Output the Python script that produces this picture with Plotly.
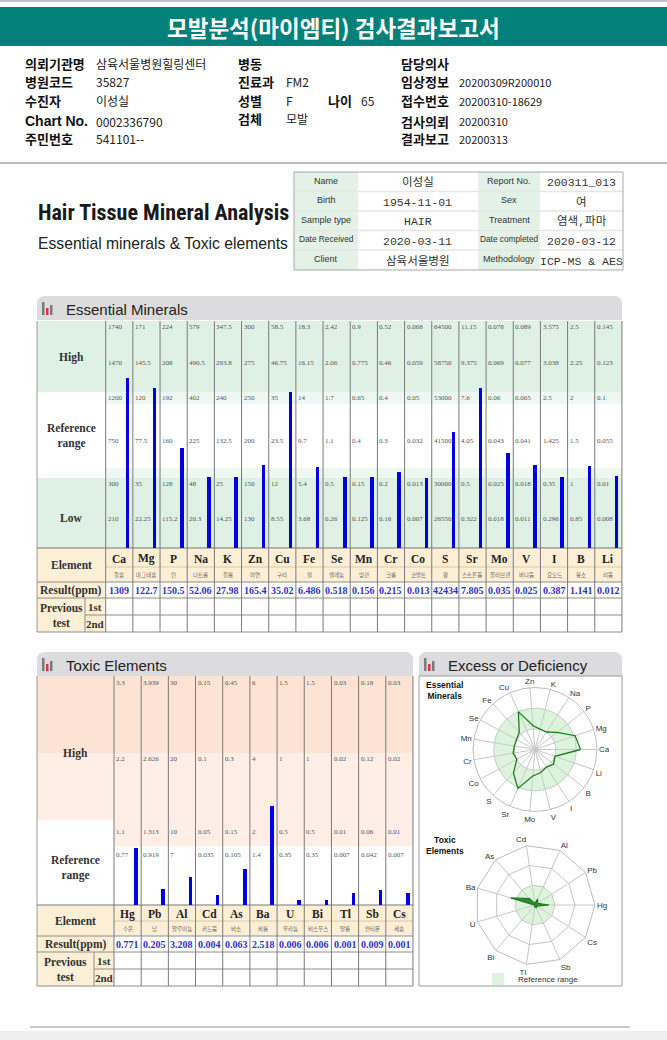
import numpy as np
import plotly.graph_objects as go

# ---------------- data ----------------
ess_elements = ["Ca", "Mg", "P", "Na", "K", "Zn", "Cu", "Fe", "Se", "Mn", "Cr", "Co", "S", "Sr", "Mo", "V", "I", "B", "Li"]
ess_korean = ["칼슘", "마그네슘", "인", "나트륨", "칼륨", "아연", "구리", "철", "셀레늄", "망간", "크롬", "코발트", "황",
              "스트론튬", "몰리브덴", "바나듐", "요오드", "붕소", "리튬"]
ess_result = [1309, 122.7, 150.5, 52.06, 27.98, 165.4, 35.02, 6.486, 0.518, 0.156, 0.215, 0.013, 42434, 7.805,
              0.035, 0.025, 0.387, 1.141, 0.012]
ess_top = ["1740", "171", "224", "579", "347.5", "300", "58.5", "18.3", "2.42", "0.9", "0.52", "0.068", "64500",
           "11.15", "0.078", "0.089", "3.575", "2.5", "0.145"]
ess_high_mid = ["1470", "145.5", "208", "490.5", "293.8", "275", "46.75", "16.15", "2.06", "0.775", "0.46", "0.059",
                "58750", "9.375", "0.069", "0.077", "3.038", "2.25", "0.123"]
ess_high = ["1200", "120", "192", "402", "240", "250", "35", "14", "1.7", "0.65", "0.4", "0.05", "53000", "7.6",
            "0.06", "0.065", "2.5", "2", "0.1"]
ess_ref_mid = ["750", "77.5", "160", "225", "132.5", "200", "23.5", "9.7", "1.1", "0.4", "0.3", "0.032", "41500",
               "4.05", "0.043", "0.041", "1.425", "1.5", "0.055"]
ess_low = ["300", "35", "128", "48", "25", "150", "12", "5.4", "0.5", "0.15", "0.2", "0.013", "30000", "0.5",
           "0.025", "0.018", "0.35", "1", "0.01"]
ess_low_mid = ["210", "22.25", "115.2", "20.3", "14.25", "130", "8.55", "3.68", "0.26", "0.125", "0.16", "0.007",
               "26550", "0.322", "0.018", "0.011", "0.296", "0.85", "0.008"]

tox_elements = ["Hg", "Pb", "Al", "Cd", "As", "Ba", "U", "Bi", "Tl", "Sb", "Cs"]
tox_korean = ["수은", "납", "알루미늄", "카드뮴", "비소", "바륨", "우라늄", "비스무스", "탈륨", "안티몬", "세슘"]
tox_result = [0.771, 0.205, 3.208, 0.004, 0.063, 2.518, 0.006, 0.006, 0.001, 0.009, 0.001]
tox_top = ["3.3", "3.939", "30", "0.15", "0.45", "6", "1.5", "1.5", "0.03", "0.18", "0.03"]
tox_high_mid = ["2.2", "2.626", "20", "0.1", "0.3", "4", "1", "1", "0.02", "0.12", "0.02"]
tox_limit = ["1.1", "1.313", "10", "0.05", "0.15", "2", "0.5", "0.5", "0.01", "0.06", "0.01"]
tox_low_mark = ["0.77", "0.919", "7", "0.035", "0.105", "1.4", "0.35", "0.35", "0.007", "0.042", "0.007"]

info_left_labels = ["의뢰기관명", "병원코드", "수진자", "Chart No.", "주민번호"]
info_left_values = ["삼육서울병원힐링센터", "35827", "이성실", "0002336790", "541101--"]
info_mid_labels = ["병동", "진료과", "성별", "검체"]
info_mid_values = ["", "FM2", "F", "모발"]
info_right_labels = ["담당의사", "임상정보", "접수번호", "검사의뢰", "결과보고"]
info_right_values = ["", "20200309R200010", "20200310-18629", "20200310", "20200313"]

card_labels_l = ["Name", "Birth", "Sample type", "Date Received", "Client"]
card_values_l = ["이성실", "1954-11-01", "HAIR", "2020-03-11", "삼육서울병원"]
card_labels_r = ["Report No.", "Sex", "Treatment", "Date completed", "Methodology"]
card_values_r = ["200311_013", "여", "염색,파마", "2020-03-12", "ICP-MS & AES"]

# ---------------- helpers ----------------
W, H = 667, 1040
KR = "Noto Sans CJK KR"
SANS = "Liberation Sans, Arial, sans-serif"
SERIF = "Liberation Serif, Noto Sans CJK KR, serif"
MONO = "Liberation Mono, Noto Sans CJK KR, monospace"


def px(x):
    return x / W


def py(y):
    return 1 - y / H


shapes, annotations = [], []


def rect(x0, y0, x1, y1, fill=None, line=None, lw=1):
    shapes.append(dict(type="rect", xref="paper", yref="paper", x0=px(x0), x1=px(x1), y0=py(y1), y1=py(y0),
                       fillcolor=fill or "rgba(0,0,0,0)",
                       line=dict(color=line or "rgba(0,0,0,0)", width=lw if line else 0), layer="below"))


def hline(x0, x1, y, color="#8c8c8c", lw=1):
    shapes.append(dict(type="line", xref="paper", yref="paper", x0=px(x0), x1=px(x1), y0=py(y), y1=py(y),
                       line=dict(color=color, width=lw), layer="below"))


def vline(x, y0, y1, color="#8c8c8c", lw=1):
    shapes.append(dict(type="line", xref="paper", yref="paper", x0=px(x), x1=px(x), y0=py(y0), y1=py(y1),
                       line=dict(color=color, width=lw), layer="below"))


def text(x, y, s, size=11, color="#222", family=SANS, xa="left", ya="middle"):
    annotations.append(dict(xref="paper", yref="paper", x=px(x), y=py(y), text=s, showarrow=False,
                            xanchor=xa, yanchor=ya, borderpad=0,
                            font=dict(size=size, color=color, family=family)))


def section_header(x0, x1, y0, y1, title):
    r = 8
    path = (f"M {px(x0)},{py(y1)} L {px(x0)},{py(y0 + r)} Q {px(x0)},{py(y0)} {px(x0 + r)},{py(y0)} "
            f"L {px(x1 - r)},{py(y0)} Q {px(x1)},{py(y0)} {px(x1)},{py(y0 + r)} L {px(x1)},{py(y1)} Z")
    shapes.append(dict(type="path", xref="paper", yref="paper", path=path, fillcolor="#dcdcdf",
                       line=dict(width=0), layer="below"))
    rect(x0 + 5, y0 + 6, x0 + 7.5, y1 - 5, fill="#7a7a7a")
    rect(x0 + 9, y0 + 12, x0 + 11.5, y1 - 5, fill="#e03232")
    rect(x0 + 13, y0 + 9, x0 + 15.5, y1 - 5, fill="#7a7a7a")
    text(x0 + 28, (y0 + y1) / 2 + 1, title, size=15, color="#222")


def fmt(v):
    return str(v)


# ---------------- scores ----------------
def ess_score(v, lo, lo_mid, hi, top):
    bottom = 2 * lo_mid - lo
    if v <= lo:
        return max(0.0, (v - bottom) / (lo - bottom))
    if v <= hi:
        return 1 + (v - lo) / (hi - lo)
    return min(3.0, 2 + (v - hi) / (top - hi))


ess_s = [ess_score(v, float(a), float(b), float(c), float(d))
         for v, a, b, c, d in zip(ess_result, ess_low, ess_low_mid, ess_high, ess_top)]
tox_s = [min(3.0, v / float(L)) if v <= float(L) else min(3.0, 1 + (v - float(L)) / float(L))
         for v, L in zip(tox_result, tox_limit)]

ESS_KNOTS = [0, 70, 156, 227]     # axis units of essential bar panel per score 0..3
TOX_KNOTS = [4, 80, 153, 229]     # axis units of toxic bar panel per score 0..3
ess_h = np.interp(ess_s, [0, 1, 2, 3], ESS_KNOTS)
tox_h = np.interp(tox_s, [0, 1, 2, 3], TOX_KNOTS)

# ---------------- page header ----------------
hline(0, W, 1, "#c4c4c4", 2)
rect(0, 7, W, 46, fill="#04807a")
text(333, 27, "<b>모발분석(마이엠티) 검사결과보고서</b>", size=22.5, color="white", family=KR, xa="center")
hline(0, W, 163, "#bdbdbd", 2)

rows_y = [63, 82, 101, 121, 139]
for i, (lab, val) in enumerate(zip(info_left_labels, info_left_values)):
    fam = SANS if lab.startswith("Chart") else KR
    text(24, rows_y[i], f"<b>{lab}</b>", size=14 if fam == SANS else 13, color="#111", family=fam)
    text(95, rows_y[i], val, size=12, color="#222", family=KR)
mid_y = [63, 82, 101, 118]
for i, (lab, val) in enumerate(zip(info_mid_labels, info_mid_values)):
    text(237, mid_y[i], f"<b>{lab}</b>", size=13, color="#111", family=KR)
    if val:
        text(285, mid_y[i], val, size=12, color="#222", family=KR)
text(327, 101, "<b>나이</b>", size=13, color="#111", family=KR)
text(360, 101, "65", size=12, color="#222", family=KR)
for i, (lab, val) in enumerate(zip(info_right_labels, info_right_values)):
    text(400, rows_y[i], f"<b>{lab}</b>", size=13, color="#111", family=KR)
    if val:
        text(458, rows_y[i], val, size=11, color="#222", family=KR)

# ---------------- title block ----------------
text(37, 213, "<b>Hair Tissue Mineral Analysis</b>", size=22, color="#1a1a1a",
     family="Liberation Sans Narrow, Roboto Condensed, Liberation Sans")
text(37, 243, "Essential minerals &amp; Toxic elements", size=15.7, color="#222", family=SANS)

card_x = [294, 358, 478, 540, 623]
card_y = [172, 191.5, 211, 230.5, 250, 270]
CARD_G = "#e3f1e7"
rect(card_x[0], card_y[0], card_x[1], card_y[-1], fill=CARD_G)
rect(card_x[2], card_y[0], card_x[3], card_y[-1], fill=CARD_G)
for yy in card_y[1:-1]:
    hline(card_x[0], card_x[-1], yy, "#e6e6e6", 1.5)
rect(card_x[0], card_y[0], card_x[-1], card_y[-1], line="#a8a8a8", lw=1)
for i in range(5):
    cy = (card_y[i] + card_y[i + 1]) / 2
    lsz = 9 if len(card_labels_l[i]) < 12 else 8.3
    rsz = 9 if len(card_labels_r[i]) < 12 else 8.3
    text((card_x[0] + card_x[1]) / 2, cy - 1, card_labels_l[i], size=lsz, color="#333", xa="center")
    text((card_x[1] + card_x[2]) / 2, cy + 1, card_values_l[i], size=11.5, color="#333", family=MONO, xa="center")
    text((card_x[2] + card_x[3]) / 2, cy - 1, card_labels_r[i], size=rsz, color="#333", xa="center")
    text((card_x[3] + card_x[4]) / 2, cy + 1, card_values_r[i], size=11.5, color="#333", family=MONO, xa="center")

# ---------------- Essential minerals panel ----------------
GREEN = "#dff0e5"
PALE = "#eef7f1"
BEIGE = "#fdefd6"
section_header(37, 622, 296, 320, "Essential Minerals")
E_L, E_X0, E_W = 37, 105.7, 27.17
E_R = E_X0 + 19 * E_W
E_T, E_B = 321, 548
rect(E_L, E_T, E_R, 392, fill=GREEN)
rect(E_X0, 392, E_R, 404, fill=PALE)
rect(E_X0, 468, E_R, 478, fill=PALE)
rect(E_L, 478, E_R, E_B, fill=GREEN)
text(71, 357, "<b>High</b>", size=11.5, color="#333", family=SERIF, xa="center")
text(71, 436, "<b>Reference<br>range</b>", size=11.5, color="#333", family=SERIF, xa="center")
text(71, 518, "<b>Low</b>", size=11.5, color="#333", family=SERIF, xa="center")


def element_table(xl, x0, w, n, sub_x, ys, elems, kors, results):
    top, sym_b, kor_b, res_b, first_b, bot = ys
    xr = x0 + n * w
    rect(xl, top, x0, res_b, fill=BEIGE)
    rect(xl, res_b, x0, bot, fill=BEIGE)
    rect(x0, top, xr, kor_b, fill=BEIGE)
    rect(x0, kor_b, xr, bot, fill="white")
    hline(xl, xr, top, "#777")
    hline(x0, xr, sym_b, "#d8c9a8")
    hline(xl, xr, kor_b, "#8c8c8c")
    hline(xl, xr, res_b, "#8c8c8c")
    hline(sub_x, xr, first_b, "#8c8c8c")
    hline(xl, xr, bot, "#8c8c8c")
    vline(sub_x, res_b, bot)
    text((xl + x0) / 2, (top + kor_b) / 2, "<b>Element</b>", size=11.5, color="#333", family=SERIF, xa="center")
    text((xl + x0) / 2, (kor_b + res_b) / 2, "<b>Result(ppm)</b>", size=11.5, color="#333", family=SERIF,
         xa="center")
    text((xl + sub_x) / 2, (res_b + bot) / 2, "<b>Previous<br>test</b>", size=11.5, color="#333", family=SERIF,
         xa="center")
    text((sub_x + x0) / 2, (res_b + first_b) / 2, "<b>1st</b>", size=11, color="#333", family=SERIF, xa="center")
    text((sub_x + x0) / 2, (first_b + bot) / 2, "<b>2nd</b>", size=11, color="#333", family=SERIF, xa="center")
    for i in range(n):
        cx = x0 + (i + 0.5) * w
        text(cx, (top + sym_b) / 2 + 1, f"<b>{elems[i]}</b>", size=11.5, color="#222", family=SERIF, xa="center")
        text(cx, (sym_b + kor_b) / 2, kors[i], size=5.5, color="#666", family=KR, xa="center")
        text(cx, (kor_b + res_b) / 2, f"<b>{fmt(results[i])}</b>", size=10, color="#2f2fcf", family=SERIF,
             xa="center")


element_table(E_L, E_X0, E_W, 19, 85, [548, 567, 582, 598, 615, 632], ess_elements, ess_korean, ess_result)
for i in range(20):
    vline(E_X0 + i * E_W, E_T, 632, "#7a7a7a")
vline(E_L, E_T, 632, "#9a9a9a")

# ---------------- Toxic panel ----------------
PEACH = "#fde3d4"
PEACH2 = "#feeee5"
section_header(37, 413, 652, 676, "Toxic Elements")
T_L, T_X0, T_W = 37, 114, 27.18
T_R = T_X0 + 11 * T_W
T_T, T_B = 676, 905
rect(T_L, T_T, T_R, 753, fill=PEACH)
rect(T_L, 753, T_X0, 820, fill=PEACH2)
rect(T_X0, 753, T_R, 846, fill=PEACH2)
text(75, 753, "<b>High</b>", size=11.5, color="#333", family=SERIF, xa="center")
text(75, 868, "<b>Reference<br>range</b>", size=11.5, color="#333", family=SERIF, xa="center")
element_table(T_L, T_X0, T_W, 11, 94, [905, 921, 936, 952, 969, 986], tox_elements, tox_korean, tox_result)
for i in range(12):
    vline(T_X0 + i * T_W, T_T, 986, "#7a7a7a")
vline(T_L, T_T, 986, "#9a9a9a")

# ---------------- Excess / deficiency panel ----------------
section_header(419, 622, 652, 676, "Excess or Deficiency")
rect(419, 676, 622, 986, line="#9a9a9a", lw=1)
text(425, 690, "<b>Essential<br>Minerals</b>", size=8.5, color="#111", family=SANS, ya="middle")
text(425, 845, "<b>Toxic<br>Elements</b>", size=8.5, color="#111", family=SANS, ya="middle")

# bottom of page
hline(30, 630, 1027, "#c8c8c8", 2)
rect(0, 1031, W, H, fill="#efefef")

# ---------------- traces ----------------
fig = go.Figure()
fig.add_trace(go.Bar(x=[i + 0.79 for i in range(19)], y=ess_h, width=0.13, xaxis="x", yaxis="y",
                     marker=dict(color="#0000e0", line=dict(width=0)), showlegend=False, hoverinfo="skip"))
fig.add_trace(go.Bar(x=[i + 0.81 for i in range(11)], y=tox_h, width=0.13, xaxis="x2", yaxis="y2",
                     marker=dict(color="#0000e0", line=dict(width=0)), showlegend=False, hoverinfo="skip"))

# tick-value labels inside the bar panels
ess_levels = list(zip([ESS_KNOTS[3], (ESS_KNOTS[2] + ESS_KNOTS[3]) / 2, ESS_KNOTS[2],
                       (ESS_KNOTS[1] + ESS_KNOTS[2]) / 2, ESS_KNOTS[1], ESS_KNOTS[1] / 2],
                      [ess_top, ess_high_mid, ess_high, ess_ref_mid, ess_low, ess_low_mid]))
for yv, labels in ess_levels:
    for i, lab in enumerate(labels):
        annotations.append(dict(xref="x", yref="y", x=i + 0.04, y=yv, text=lab, showarrow=False,
                                xanchor="left", yanchor="top", yshift=-1, borderpad=0,
                                font=dict(size=7, color="#555", family=SERIF)))
tox_levels = list(zip([TOX_KNOTS[3], TOX_KNOTS[2], TOX_KNOTS[1], float(np.interp(0.7, [0, 1], TOX_KNOTS[:2]))],
                      [tox_top, tox_high_mid, tox_limit, tox_low_mark]))
for yv, labels in tox_levels:
    for i, lab in enumerate(labels):
        annotations.append(dict(xref="x2", yref="y2", x=i + 0.04, y=yv, text=lab, showarrow=False,
                                xanchor="left", yanchor="top", yshift=-2, borderpad=0,
                                font=dict(size=7, color="#555", family=SERIF)))

# radar charts
fig.add_trace(go.Barpolar(r=[1] * 19, base=[1] * 19, theta=ess_elements, subplot="polar",
                          marker=dict(color="rgba(180,228,180,0.45)", line=dict(width=0)),
                          showlegend=False, hoverinfo="skip"))
fig.add_trace(go.Scatterpolar(r=ess_s + [ess_s[0]], theta=ess_elements + [ess_elements[0]], subplot="polar",
                              mode="lines", line=dict(color="#1f7d1f", width=1.3), showlegend=False,
                              hoverinfo="skip"))
fig.add_trace(go.Barpolar(r=[1] * 11, theta=tox_elements, subplot="polar2", name="Reference range",
                          marker=dict(color="rgba(180,228,180,0.45)", line=dict(width=0)),
                          showlegend=True, hoverinfo="skip"))
fig.add_trace(go.Scatterpolar(r=tox_s + [tox_s[0]], theta=tox_elements + [tox_elements[0]], subplot="polar2",
                              mode="lines", fill="toself", fillcolor="#2e8b2e",
                              line=dict(color="#1f7d1f", width=1.2), showlegend=False, hoverinfo="skip"))


def polar_layout(cx, cy, r, cats, shape):
    return dict(domain=dict(x=[px(cx - r), px(cx + r)], y=[py(cy + r), py(cy - r)]),
                bgcolor="rgba(0,0,0,0)", gridshape=shape, bargap=0,
                radialaxis=dict(range=[0, 3], tickvals=[1, 2], showticklabels=False, ticks="", showline=False,
                                gridcolor="#c6c6c6", gridwidth=0.8),
                angularaxis=dict(type="category", categoryorder="array", categoryarray=cats, rotation=0,
                                 direction="counterclockwise", ticks="", showline=True, linecolor="#bdbdbd",
                                 gridcolor="#c6c6c6", gridwidth=0.8,
                                 tickfont=dict(size=8, color="#333", family=SANS)))


fig.update_layout(
    width=W, height=H, margin=dict(l=0, r=0, t=0, b=0),
    paper_bgcolor="white", plot_bgcolor="rgba(0,0,0,0)",
    xaxis=dict(domain=[px(E_X0), px(E_R)], range=[0, 19], visible=False, fixedrange=True),
    yaxis=dict(domain=[py(E_B), py(E_T)], range=[0, 227], visible=False, fixedrange=True),
    xaxis2=dict(domain=[px(T_X0), px(T_R)], range=[0, 11], visible=False, anchor="y2", fixedrange=True),
    yaxis2=dict(domain=[py(T_B), py(T_T)], range=[0, 229], visible=False, anchor="x2", fixedrange=True),
    polar=polar_layout(535, 749.5, 62, ess_elements, "circular"),
    polar2=polar_layout(535, 905, 60, tox_elements, "linear"),
    legend=dict(x=px(478), y=py(979), xanchor="left", yanchor="middle", orientation="h",
                font=dict(size=8, color="#333", family=SANS), bgcolor="rgba(0,0,0,0)", itemwidth=30),
    shapes=shapes, annotations=annotations, bargap=0,
)

fig.write_html("out.html", config={"displayModeBar": False},
               post_script="document.body.style.margin='0px';document.body.style.overflow='hidden';")
